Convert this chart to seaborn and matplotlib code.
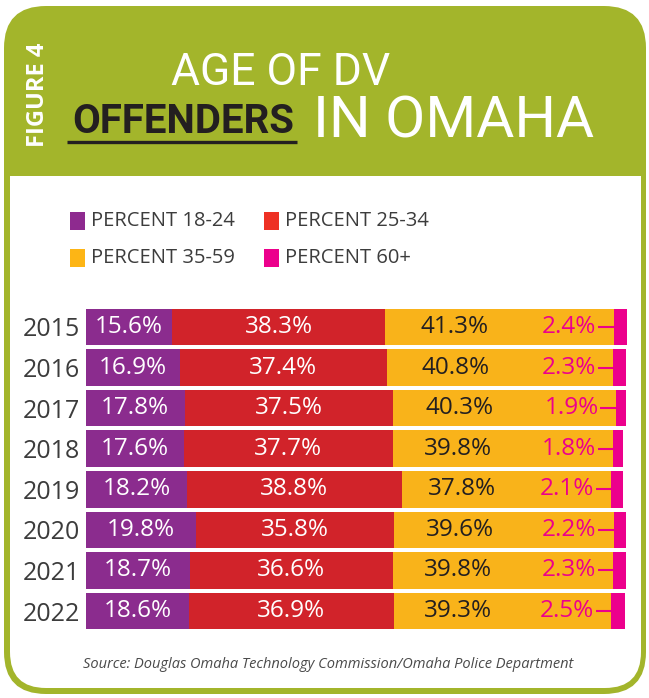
import seaborn as sns
import pandas as pd
import numpy as np
from matplotlib import pyplot as plt
from matplotlib.patches import FancyBboxPatch, Rectangle

# data
years = ['2015', '2016', '2017', '2018', '2019', '2020', '2021', '2022']
pct_18_24 = [15.6, 16.9, 17.8, 17.6, 18.2, 19.8, 18.7, 18.6]
pct_25_34 = [38.3, 37.4, 37.5, 37.7, 38.8, 35.8, 36.6, 36.9]
pct_35_59 = [41.3, 40.8, 40.3, 39.8, 37.8, 39.6, 39.8, 39.3]
pct_60_up = [2.4, 2.3, 1.9, 1.8, 2.1, 2.2, 2.3, 2.5]
groups = ['PERCENT 18-24', 'PERCENT 25-34', 'PERCENT 35-59', 'PERCENT 60+']

bar_colors = ['#8B2C8E', '#D1232A', '#F9B31A', '#EC008C']
legend_colors = ['#8E2A8F', '#EE3124', '#FDB515', '#EC008C']
green = '#A3B52B'
dark = '#231F20'
gray = '#3C3C3C'

sns.set_style('white')
plt.rcParams['font.family'] = ['Open Sans', 'DejaVu Sans']

fig = plt.figure(figsize=(6.49, 6.98), dpi=100)

# background / frame, in pixel coords
bg = fig.add_axes([0, 0, 1, 1])
bg.set_xlim(0, 649)
bg.set_ylim(698, 0)
bg.axis('off')
bg.add_patch(FancyBboxPatch((4, 6), 642, 688, boxstyle='round,pad=0,rounding_size=42',
                            fc=green, ec='none'))
bg.add_patch(FancyBboxPatch((10, 176), 631, 512, boxstyle='round,pad=0,rounding_size=36',
                            fc='white', ec='none'))
bg.add_patch(Rectangle((10, 176), 631, 60, fc='white', ec='none'))

# header
bg.text(38, 95, 'FIGURE 4', rotation=90, ha='center', va='center', color='white',
        fontsize=17, fontweight='bold')
bg.text(281, 85, 'AGE OF DV', ha='center', va='baseline', color='white', fontsize=32,
        family=['Roboto', 'DejaVu Sans'])
bg.text(72, 133, 'OFFENDERS', ha='left', va='baseline', color=dark, fontsize=29,
        fontweight='bold', family=['Roboto', 'DejaVu Sans'])
bg.plot([67, 297], [142, 142], color=dark, lw=2.4, solid_capstyle='butt')
bg.text(313, 137, 'IN OMAHA', ha='left', va='baseline', color='white', fontsize=42,
        family=['Roboto', 'DejaVu Sans'])

# legend
leg_pos = [(70, 221), (264, 221), (70, 258), (264, 258)]
for (lx, ly), name, c in zip(leg_pos, groups, legend_colors):
    bg.add_patch(Rectangle((lx, ly - 9), 15, 18, fc=c, ec='none'))
    bg.text(lx + 21, ly, name, ha='left', va='center', color=gray, fontsize=14.5)

# source
bg.text(328, 665, 'Source: Douglas Omaha Technology Commission/Omaha Police Department',
        ha='center', va='center', color='#4A4A4A', fontsize=10.5, style='italic')

# stacked bars
df = pd.DataFrame({'year': years, 'a': pct_18_24, 'b': pct_25_34,
                   'c': pct_35_59, 'd': pct_60_up})
cum = df[['a', 'b', 'c', 'd']].cumsum(axis=1)
cum['year'] = years

ax = fig.add_axes([86 / 649, 1 - 631.3 / 698, 541 / 649, (631.3 - 306.7) / 698])
ax.patch.set_alpha(0)
for col, c in reversed(list(zip(['a', 'b', 'c', 'd'], bar_colors))):
    sns.barplot(data=cum, x=col, y='year', orient='h', color=c, saturation=1,
                width=0.9, errorbar=None, linewidth=0, ax=ax)

ax.set_xlim(0, cum['d'].max())
ax.set_ylim(len(years) - 0.5, -0.5)
ax.set_xlabel('')
ax.set_ylabel('')
ax.set_xticks([])
ax.tick_params(axis='y', length=0, pad=4, labelsize=18, labelcolor=gray)
sns.despine(ax=ax, left=True, bottom=True)

for i in range(len(years)):
    s1, s2, s3 = cum['a'][i], cum['b'][i], cum['c'][i]
    ax.text(s1 / 2, i, f'{pct_18_24[i]}%', ha='center', va='center', color='white', fontsize=17.5)
    ax.text((s1 + s2) / 2, i, f'{pct_25_34[i]}%', ha='center', va='center', color='white', fontsize=17.5)
    ax.text((s2 + s3 - 16) / 2, i, f'{pct_35_59[i]}%', ha='center', va='center', color=dark, fontsize=17.5)
    ax.text(s3 - 3.1, i, f'{pct_60_up[i]}%', ha='right', va='center', color='#EC008C', fontsize=17.5)
    ax.plot([s3 - 2.8, s3], [i, i], color='#EC008C', lw=1.5, solid_capstyle='butt')

fig.savefig('out.png', dpi=100)
